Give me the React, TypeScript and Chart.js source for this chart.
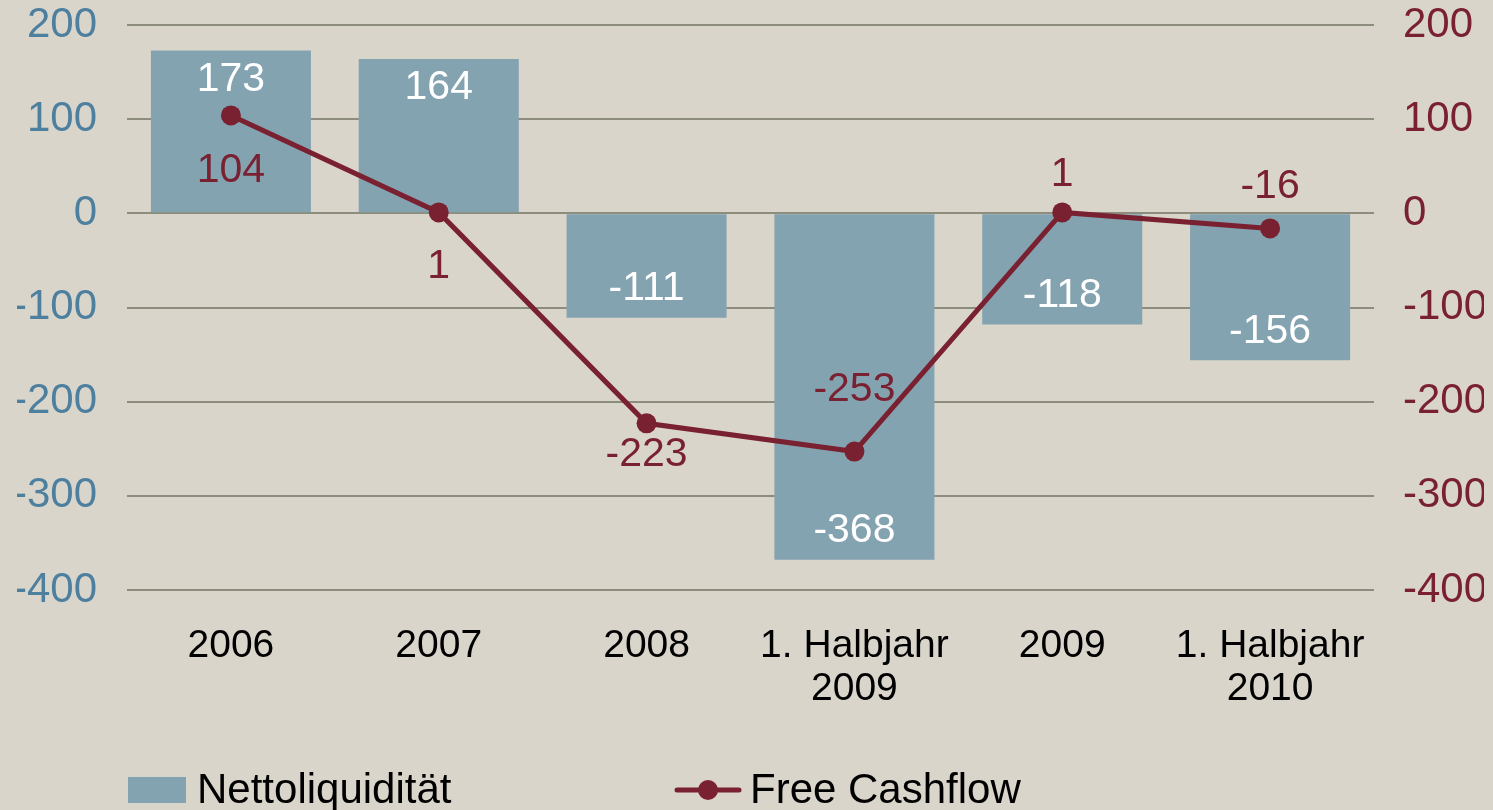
import React, { useEffect, useRef } from "react";
import { Chart, registerables } from "chart.js";

Chart.register(...registerables);

const FONT = "'Liberation Sans', Arial, sans-serif";

const categories: (string | string[])[] = [
  "2006",
  "2007",
  "2008",
  ["1. Halbjahr", "2009"],
  "2009",
  ["1. Halbjahr", "2010"],
];
const seriesNames = ["Nettoliquidität", "Free Cashflow"];
const nettoliquiditaet = [173, 164, -111, -368, -118, -156];
const freeCashflow = [104, 1, -223, -253, 1, -16];
const yTicks = [-400, -300, -200, -100, 0, 100, 200];

const BG = "#d9d5cb";
const BAR = "#84a3b1";
const LEFT = "#4d7f9f";
const RED = "#7a2131";
const GRID = "#8d8d7e";

const labelPlugin = {
  id: "valueLabels",
  afterDatasetsDraw(chart: any, _args: any, opts: any) {
    const ctx = chart.ctx;
    ctx.save();
    ctx.font = `41px ${FONT}`;
    ctx.textAlign = "center";
    ctx.textBaseline = "middle";
    const barMeta = chart.getDatasetMeta(0);
    barMeta.data.forEach((el: any, i: number) => {
      const v = nettoliquiditaet[i];
      const { x, y } = el.getProps(["x", "y"], true);
      ctx.fillStyle = "#ffffff";
      ctx.fillText(String(v), x, v >= 0 ? y + opts.barInset : y - opts.barInset);
    });
    const lineMeta = chart.getDatasetMeta(1);
    lineMeta.data.forEach((el: any, i: number) => {
      const v = freeCashflow[i];
      const { x, y } = el.getProps(["x", "y"], true);
      ctx.fillStyle = RED;
      ctx.fillText(String(v), x, y + opts.lineLabelDy[i]);
    });
    ctx.restore();
  },
};

const legendPlugin = {
  id: "customLegend",
  afterDraw(chart: any) {
    const { ctx, chartArea } = chart;
    const h = chart.height;
    const midY = h - 20;
    const baseY = h - 7;
    ctx.save();
    ctx.font = `42px ${FONT}`;
    ctx.textAlign = "left";
    ctx.textBaseline = "alphabetic";
    const x1 = chartArea.left + 1;
    ctx.fillStyle = BAR;
    ctx.fillRect(x1, midY - 13, 58, 26);
    ctx.fillStyle = "#000000";
    ctx.fillText(seriesNames[0], x1 + 69, baseY);
    const x2 = chartArea.left + 550;
    ctx.strokeStyle = RED;
    ctx.lineWidth = 5;
    ctx.lineCap = "round";
    ctx.beginPath();
    ctx.moveTo(x2, midY);
    ctx.lineTo(x2 + 62, midY);
    ctx.stroke();
    ctx.fillStyle = RED;
    ctx.beginPath();
    ctx.arc(x2 + 31, midY, 10, 0, Math.PI * 2);
    ctx.fill();
    ctx.fillStyle = "#000000";
    ctx.fillText(seriesNames[1], x2 + 73, baseY);
    ctx.restore();
  },
};

export default function App() {
  const ref = useRef<HTMLCanvasElement | null>(null);

  useEffect(() => {
    document.body.style.margin = "0";
    const canvas = ref.current;
    if (!canvas) return;
    const setTicks = (scale: any) => {
      scale.ticks = yTicks.map((v) => ({ value: v }));
    };
    const fitY = (scale: any) => {
      scale.width = 110;
      scale.paddingTop = 0;
      scale.paddingBottom = 0;
    };
    const chart = new Chart(canvas, {
      type: "bar",
      data: {
        labels: categories as any,
        datasets: [
          {
            type: "bar",
            label: seriesNames[0],
            data: nettoliquiditaet,
            backgroundColor: BAR,
            borderWidth: 0,
            barPercentage: 0.77,
            categoryPercentage: 1,
            yAxisID: "y",
            order: 2,
          },
          {
            type: "line",
            label: seriesNames[1],
            data: freeCashflow,
            borderColor: RED,
            backgroundColor: RED,
            borderWidth: 5,
            pointRadius: 10,
            pointHoverRadius: 10,
            pointBackgroundColor: RED,
            pointBorderWidth: 0,
            tension: 0,
            yAxisID: "y1",
            order: 1,
          } as any,
        ],
      },
      options: {
        responsive: false,
        animation: false,
        layout: { padding: { left: 17, right: 9, top: 25, bottom: 99 } },
        plugins: {
          legend: { display: false },
          tooltip: { enabled: false },
          valueLabels: {
            barInset: 29,
            lineLabelDy: [55, 54, 31, -62, -38, -42],
          },
        } as any,
        scales: {
          x: {
            grid: { display: false, drawTicks: false },
            border: { display: false },
            afterFit: (scale: any) => {
              scale.height = 121;
              scale.paddingLeft = 0;
              scale.paddingRight = 0;
            },
            ticks: {
              color: "#000000",
              font: { family: FONT, size: 39, lineHeight: 1.1 },
              padding: 35,
              maxRotation: 0,
              autoSkip: false,
            },
          },
          y: {
            position: "left",
            min: -400,
            max: 200,
            afterBuildTicks: setTicks,
            afterFit: fitY,
            grid: { color: GRID, lineWidth: 2, drawTicks: false },
            border: { display: false },
            ticks: {
              color: LEFT,
              font: { family: FONT, size: 42 },
              padding: 30,
            },
          },
          y1: {
            position: "right",
            min: -400,
            max: 200,
            afterBuildTicks: setTicks,
            afterFit: fitY,
            grid: { display: false, drawTicks: false },
            border: { display: false },
            ticks: {
              color: RED,
              font: { family: FONT, size: 42 },
              padding: 29,
            },
          },
        },
      },
      plugins: [labelPlugin, legendPlugin],
    });
    return () => chart.destroy();
  }, []);

  return (
    <div style={{ width: 1493, height: 810, background: BG }}>
      <canvas
        ref={ref}
        width={1493}
        height={810}
        style={{ display: "block", background: BG }}
      />
    </div>
  );
}
